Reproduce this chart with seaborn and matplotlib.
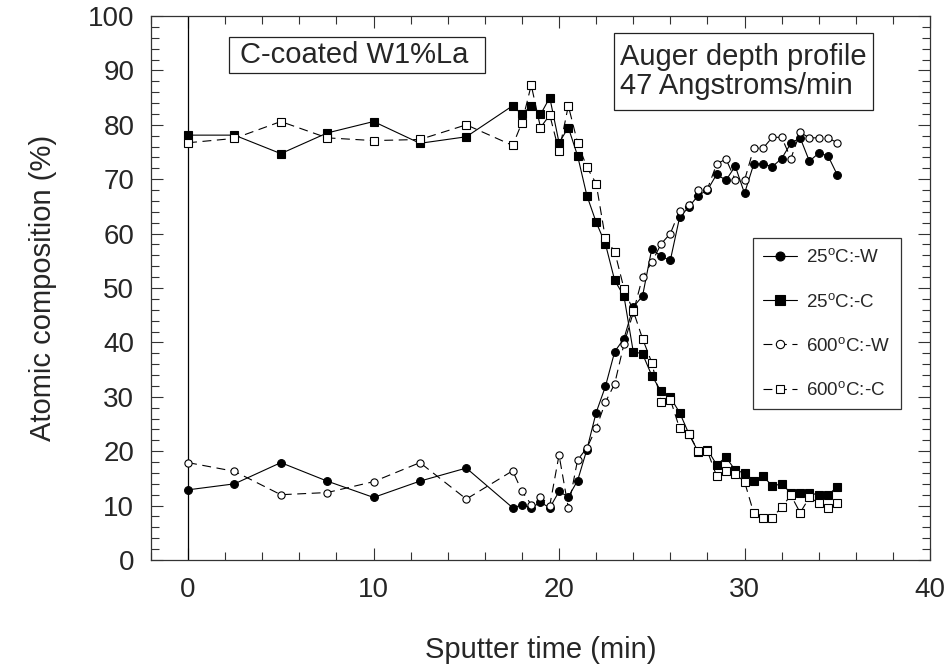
import matplotlib
matplotlib.use("Agg")
import matplotlib.pyplot as plt
import seaborn as sns
from matplotlib.patches import Rectangle
from matplotlib.ticker import MultipleLocator

sns.set_style("ticks")
plt.rcParams['font.family'] = ['Liberation Sans', 'DejaVu Sans']
plt.rcParams['mathtext.fontset'] = 'custom'
plt.rcParams['mathtext.rm'] = 'Liberation Sans'
plt.rcParams['mathtext.it'] = 'Liberation Sans:italic'
plt.rcParams['mathtext.bf'] = 'Liberation Sans:bold'

# ---------------- data ----------------
time_min = [0, 2.5, 5, 7.5, 10, 12.5, 15,
            17.5, 18, 18.5, 19, 19.5, 20, 20.5, 21, 21.5, 22, 22.5, 23, 23.5,
            24, 24.5, 25, 25.5, 26, 26.5, 27, 27.5, 28, 28.5, 29, 29.5, 30,
            30.5, 31, 31.5, 32, 32.5, 33, 33.5, 34, 34.5, 35]

w_25 = [12.9, 14.0, 17.9, 14.5, 11.5, 14.5, 16.9,
        9.6, 10.1, 9.6, 10.6, 9.6, 12.6, 11.6, 14.6, 20.3, 27.1, 31.9, 38.3, 40.7,
        46.5, 48.5, 57.2, 55.8, 55.1, 63.0, 64.9, 67.0, 68.0, 70.9, 69.8, 72.4, 67.4,
        72.8, 72.8, 72.3, 73.8, 76.6, 77.6, 73.3, 74.8, 74.3, 70.8]

c_25 = [78.1, 78.1, 74.7, 78.5, 80.6, 76.6, 77.8,
        83.5, 81.9, 83.5, 81.9, 85.0, 76.7, 79.5, 74.3, 67.0, 62.1, 58.1, 51.4, 48.5,
        38.3, 37.9, 33.9, 31.0, 29.9, 27.1, 23.2, 19.9, 20.3, 17.5, 18.9, 16.5, 16.0,
        14.6, 15.4, 13.6, 14.0, 12.3, 12.4, 12.4, 11.9, 11.9, 13.5]

w_600 = [17.9, 16.3, 12.0, 12.4, 14.4, 17.9, 11.2,
         16.4, 12.6, 10.2, 11.6, 10.0, 19.3, 9.6, 18.4, 20.6, 24.2, 29.0, 32.4, 39.7,
         45.5, 52.0, 54.7, 58.1, 60.0, 64.2, 65.3, 68.0, 68.2, 72.8, 73.7, 69.9, 69.8,
         75.7, 75.7, 77.7, 77.7, 73.8, 78.6, 77.6, 77.6, 77.6, 76.7]

c_600 = [76.7, 77.5, 80.6, 77.6, 77.1, 77.3, 80.0,
         76.2, 80.4, 87.3, 79.5, 81.8, 75.1, 83.5, 76.7, 72.2, 69.2, 59.1, 56.7, 49.9,
         45.8, 40.7, 36.3, 29.1, 29.5, 24.2, 23.2, 20.0, 20.0, 15.4, 16.4, 15.8, 14.4,
         8.6, 7.8, 7.8, 9.7, 11.9, 8.7, 11.5, 10.5, 9.6, 10.5]

series_labels = [r"25$^{\mathrm{o}}$C:-W", r"25$^{\mathrm{o}}$C:-C",
                 r"600$^{\mathrm{o}}$C:-W", r"600$^{\mathrm{o}}$C:-C"]

x_label = "Sputter time (min)"
y_label = "Atomic composition (%)"
sample_text = "C-coated W1%La"
method_text = "Auger depth profile\n47 Angstroms/min"

# ---------------- figure ----------------
W, H = 950, 670
fig = plt.figure(figsize=(W / 100, H / 100), dpi=100)
L, R, T, B = 151, 930, 16, 560
ax = fig.add_axes([L / W, (H - B) / H, (R - L) / W, (B - T) / H])

dash = (0, (8, 5))
styles = [
    dict(marker='o', linestyle='-', markerfacecolor='k', markersize=5.6),
    dict(marker='s', linestyle='-', markerfacecolor='k', markersize=6.0),
    dict(marker='o', linestyle=dash, markerfacecolor='white', markersize=5.2),
    dict(marker='s', linestyle=dash, markerfacecolor='white', markersize=5.4),
]
series = [w_25, c_25, w_600, c_600]

ax.axvline(0, color='k', lw=0.9, zorder=1)

for vals, lab, st in zip(series, series_labels, styles):
    sns.lineplot(x=time_min, y=vals, ax=ax, color='k', lw=0.8,
                 markeredgecolor='k', markeredgewidth=0.8,
                 label=lab, zorder=3, **st)

ax.set_xlim(-2, 40)
ax.set_ylim(0, 100)
ax.xaxis.set_major_locator(MultipleLocator(10))
ax.xaxis.set_minor_locator(MultipleLocator(2))
ax.yaxis.set_major_locator(MultipleLocator(10))
ax.yaxis.set_minor_locator(MultipleLocator(2))
ax.tick_params(which='both', direction='in', top=True, right=True,
               color='#333333', width=0.8)
ax.tick_params(which='major', length=8.5, labelsize=20, pad=12)
ax.tick_params(which='minor', length=6)
for sp in ax.spines.values():
    sp.set_color('#333333')
    sp.set_linewidth(0.9)

ax.set_xlabel(x_label, fontsize=21, labelpad=24)
ax.set_ylabel(y_label, fontsize=21, labelpad=22)

# text boxes (axes fraction positions)
def fx(px):
    return (px - L) / (R - L)

def fy(py):
    return (B - py) / (B - T)

ax.add_patch(Rectangle((fx(229), fy(73)), fx(485) - fx(229), fy(37) - fy(73),
                       transform=ax.transAxes, fill=False, ec='#222222', lw=0.9,
                       zorder=4))
ax.text(fx(240), fy(55), sample_text, transform=ax.transAxes, fontsize=21,
        va='center', ha='left', zorder=5)

ax.add_patch(Rectangle((fx(614), fy(110)), fx(873) - fx(614), fy(33) - fy(110),
                       transform=ax.transAxes, fill=False, ec='#222222', lw=0.9,
                       zorder=4))
ax.text(fx(620), fy(71.5), method_text, transform=ax.transAxes, fontsize=21,
        va='center', ha='left', linespacing=1.08, zorder=5)

leg = ax.legend(loc='upper left', bbox_to_anchor=(fx(753), fy(238)),
                borderaxespad=0, fontsize=13.5, frameon=True, fancybox=False,
                edgecolor='#333333', labelspacing=1.4, handlelength=1.8,
                handletextpad=0.5, borderpad=0.55, markerscale=1.15)
leg.get_frame().set_linewidth(0.9)
leg.get_frame().set_alpha(1)

fig.savefig("out.png", dpi=100, facecolor='white')
